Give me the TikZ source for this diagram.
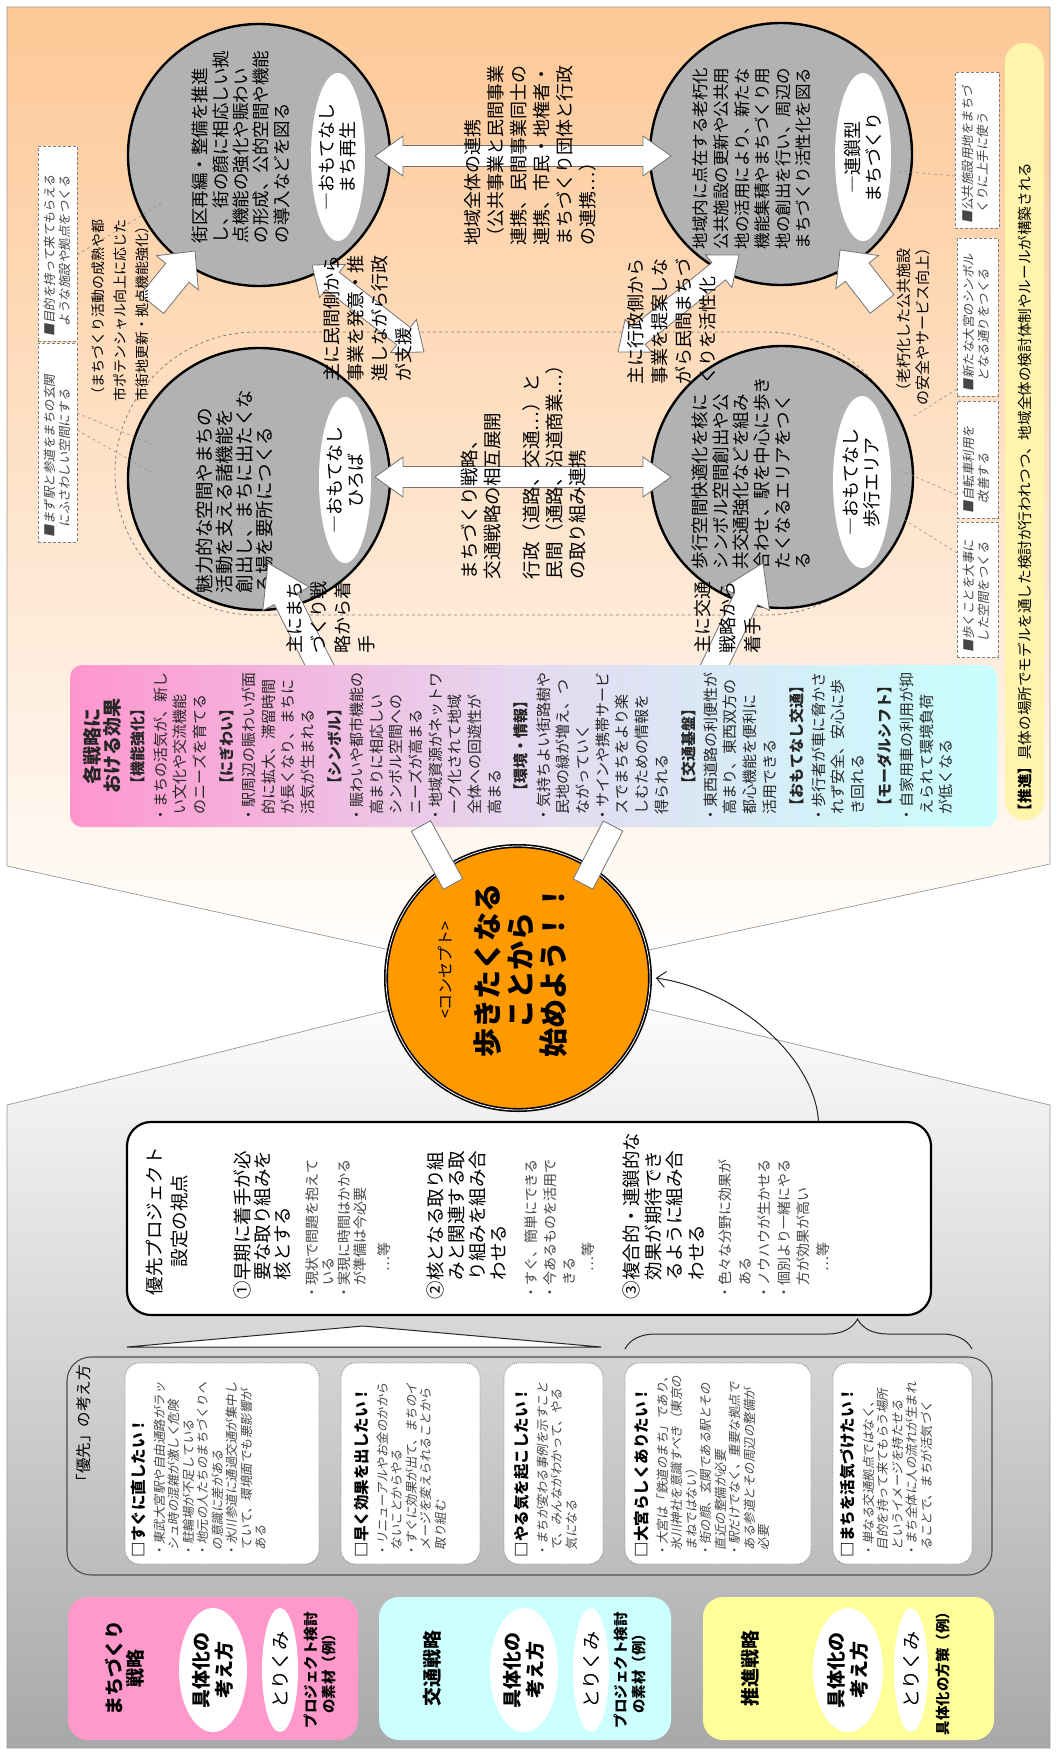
\documentclass[tikz,border=0pt]{standalone}
\usepackage{fontspec}
\setmainfont{Noto Sans CJK JP}
\newfontfamily\jpit[FakeSlant=0.18]{Noto Sans CJK JP}
\usetikzlibrary{calc,shapes.geometric,decorations.pathreplacing,arrows.meta}
\definecolor{peach}{RGB}{253,200,150}
\definecolor{panelgray}{RGB}{168,168,168}
\definecolor{effpink}{RGB}{255,150,205}
\definecolor{efflav}{RGB}{228,218,240}
\definecolor{effcyan}{RGB}{200,255,255}
\definecolor{circgray}{RGB}{178,178,178}
\definecolor{conc}{RGB}{255,153,0}
\definecolor{bandyel}{RGB}{255,244,172}
\definecolor{spink}{RGB}{255,153,204}
\definecolor{scyan}{RGB}{204,255,255}
\definecolor{syel}{RGB}{255,255,153}
\definecolor{softtext}{RGB}{70,70,70}
\newcommand{\blkarrow}[5]{%
  \coordinate (ba-s) at (#1);
  \coordinate (ba-e) at (#2);
  \coordinate (ba-h) at ($(ba-e)!#5!(ba-s)$);
  \filldraw[blockarr] ($(ba-s)!#3!90:(ba-e)$) -- ($(ba-h)!#3!-90:(ba-s)$) -- ($(ba-h)!#4!-90:(ba-s)$) -- (ba-e) -- ($(ba-h)!#4!90:(ba-s)$) -- ($(ba-h)!#3!90:(ba-s)$) -- ($(ba-s)!#3!-90:(ba-e)$) -- cycle;}
\newcommand{\dblarrow}[5]{%
  \coordinate (da-s) at (#1);
  \coordinate (da-e) at (#2);
  \coordinate (da-h1) at ($(da-s)!#5!(da-e)$);
  \coordinate (da-h2) at ($(da-e)!#5!(da-s)$);
  \filldraw[blockarr] (da-s) -- ($(da-h1)!#4!90:(da-e)$) -- ($(da-h1)!#3!90:(da-e)$) -- ($(da-h2)!#3!-90:(da-s)$) -- ($(da-h2)!#4!-90:(da-s)$) -- (da-e) -- ($(da-h2)!#4!90:(da-s)$) -- ($(da-h2)!#3!90:(da-s)$) -- ($(da-h1)!#3!-90:(da-e)$) -- ($(da-h1)!#4!-90:(da-e)$) -- cycle;}
\newcommand{\wbar}[3]{%
  \coordinate (wb-s) at (#1);
  \coordinate (wb-e) at (#2);
  \filldraw[blockarr] ($(wb-s)!#3!90:(wb-e)$) -- ($(wb-e)!#3!-90:(wb-s)$) -- ($(wb-e)!#3!90:(wb-s)$) -- ($(wb-s)!#3!-90:(wb-e)$) -- cycle;}
\begin{document}
\begin{tikzpicture}[x=1pt,y=-1pt,
  lt/.style={rotate=90,inner sep=0pt,outer sep=0pt,align=left,anchor=north west},
  ct/.style={rotate=90,inner sep=0pt,outer sep=0pt,align=center,anchor=center},
  circ/.style={circle,draw=black,line width=2.4pt,fill=circgray,minimum size=262pt,inner sep=0pt},
  wel/.style={ellipse,fill=white,inner sep=0pt},
  blockarr/.style={fill=white,draw=black!55,line width=0.8pt,line join=miter},
  note/.style={draw=black!50,densely dashed,fill=white,line width=0.6pt,inner sep=0pt},
  leader/.style={draw=black!45,dashed,line width=0.5pt},
  ibox/.style={draw=black!45,densely dotted,fill=white,rounded corners=14pt,line width=0.9pt,inner sep=0pt,minimum height=201pt},
  sbox/.style={rounded corners=20pt,inner sep=0pt,minimum height=143pt},
  small/.style={font=\jpit\fontsize{12.5}{14.5}\selectfont,text=softtext}
]
\useasboundingbox (0,0) rectangle (1057,1753);
\fill[white] (0,0) rectangle (1057,1753);
% ---------- background panels
\shadedraw[top color=peach,bottom color=white,draw=black!40,line width=0.7pt] (7,7) -- (1050,7) -- (1050,864) -- (518,978) -- (7,866) -- cycle;
\shadedraw[top color=white,bottom color=panelgray,draw=black!40,line width=0.7pt] (7,1105) -- (518,978) -- (1050,1105) -- (1050,1748) -- (7,1748) -- cycle;
% ---------- yellow band
\node[fill=bandyel,rounded corners=19pt,minimum width=39pt,minimum height=777pt,inner sep=0pt] (band) at (1024.5,431.5) {};
\node[lt,font=\fontsize{14.6}{17}\selectfont] (bandtxt) at (1018,818) {{\bfseries 【推進】}具体の場所でモデルを通した検討が行われつつ、地域全体の検討体制やルールが構築される};
% ---------- dashed enclosure
\node[draw=black!50,dashed,line width=0.8pt,rounded corners=141pt,minimum width=792pt,minimum height=283pt,inner sep=0pt] (encl) at (511,473.5) {};
% ---------- notes
\node[note,minimum width=39pt,minimum height=195pt] (n2) at (57.5,243.5) {};
\node[lt,small] (n2t) at (44,336) {■目的を持って来てもらえる\\\hspace*{10pt}ような施設や拠点をつくる};
\node[note,minimum width=39pt,minimum height=199pt] (n1) at (57.5,442.5) {};
\node[lt,small] (n1t) at (44,537) {■まず駅と参道をまちの玄関\\\hspace*{10pt}にふさわしい空間にする};
\node[note,minimum width=44pt,minimum height=156pt] (n3) at (977,150) {};
\node[lt,small] (n3t) at (962,223) {■公共施設用地をまちづ\\\hspace*{10pt}くりに上手に使う};
\node[note,minimum width=41pt,minimum height=158pt] (n4) at (977.5,317) {};
\node[lt,small] (n4t) at (963,391) {■新たな大宮のシンボル\\\hspace*{10pt}となる通りをつくる};
\node[note,minimum width=41pt,minimum height=117pt] (n5) at (977.5,459.5) {};
\node[lt,small] (n5t) at (963,513) {■自転車利用を\\\hspace*{10pt}改善する};
\node[note,minimum width=41pt,minimum height=135pt] (n6) at (977.5,589.5) {};
\node[lt,small] (n6t) at (963,652) {■歩くことを大事に\\\hspace*{10pt}した空間をつくる};
% ---------- circles
\node[circ] (cC) at (259,155) {};
\node[circ] (cD) at (781,154) {};
\node[circ] (cA) at (259,479) {};
\node[circ] (cB) at (782,477) {};
\node[wel,minimum width=54pt,minimum height=168pt] (eC) at (338,157) {};
\node[wel,minimum width=56pt,minimum height=168pt] (eD) at (863,157) {};
\node[wel,minimum width=52pt,minimum height=166pt] (eA) at (345,480) {};
\node[wel,minimum width=58pt,minimum height=172pt] (eB) at (862,482) {};
\node[ct,font=\fontsize{18}{21}\selectfont] (tEC) at (eC) {―おもてなし\\まち再生};
\node[ct,font=\fontsize{18}{21}\selectfont] (tED) at (eD) {―連鎖型\\まちづくり};
\node[ct,font=\fontsize{18}{21}\selectfont] (tEA) at (eA) {―おもてなし\\ひろば};
\node[ct,font=\fontsize{18}{21}\selectfont] (tEB) at (eB) {―おもてなし\\歩行エリア};
\node[lt,font=\fontsize{17.5}{20.4}\selectfont] (tC) at (192,243) {街区再編・整備を推進\\し、街の顔に相応しい拠\\点機能の強化や賑わい\\の形成、公的空間や機能\\の導入などを図る};
\node[lt,font=\fontsize{16.5}{20.6}\selectfont] (tD) at (693,249) {地域内に点在する老朽化\\公共施設の更新や公共用\\地の活用により、新たな\\機能集積やまちづくり用\\地の創出を行い、周辺の\\まちづくり活性化を図る};
\node[lt,font=\fontsize{18.5}{20}\selectfont] (tA) at (196,593) {魅力的な空間やまちの\\活動を支える諸機能を\\創出し、まちに出たくな\\る場を要所につくる};
\node[lt,font=\fontsize{17.5}{20.6}\selectfont] (tB) at (692,569) {歩行空間快適化を核に\\シンボル空間創出や公\\共交通強化などを組み\\合わせ、駅を中心に歩き\\たくなるエリアをつく\\る};
% ---------- leader lines
\draw[leader] (77,413) -- (151,444);
\draw[leader] (77,430) -- (151,472);
\draw[leader] (77,255) -- (162,203);
\draw[leader] (955,176) -- (897,171);
\draw[leader] (957,389) -- (914,416);
\draw[leader] (957,495) -- (900,470);
\draw[leader] (957,553) -- (900,517);
% ---------- arrows between circles
\dblarrow{375,156}{671,156}{10.5pt}{20pt}{28pt}
\dblarrow{375,477}{671,477}{10.5pt}{20pt}{28pt}
\dblarrow{424,352}{312,265}{11pt}{21pt}{26pt}
\dblarrow{618,352}{739,255}{11pt}{21pt}{26pt}
\blkarrow{152,304}{195,251}{15pt}{27pt}{28pt}
\blkarrow{882,304}{840,250}{15pt}{27pt}{28pt}
% ---------- region texts
\node[ct,font=\fontsize{14}{22}\selectfont] (pAC) at (120,310) {（まちづくり活動の成熟や都\\市ポテンシャル向上に応じた\\市街地更新・拠点機能強化）};
\node[ct,font=\fontsize{15}{19}\selectfont] (pBD) at (913,323) {（老朽化した公共施設\\の安全やサービス向上）};
\node[lt,font=\fontsize{18}{23}\selectfont] (tCD) at (464,245) {地域全体の連携\\（公共事業と民間事業\\連携、民間事業同士の\\連携、市民・地権者・\\まちづくり団体と行政\\の連携…）};
\node[lt,font=\fontsize{18.5}{23}\selectfont] (tAB) at (461,579) {まちづくり戦略、\\交通戦略の相互展開\\[16pt]行政（道路、交通…）と\\民間（通路、沿道商業…）\\の取り組み連携};
\node[lt,font=\fontsize{18}{24}\selectfont] (tACd) at (323,381) {主に民間側から\\事業を発意・推\\進しながら行政\\が支援};
\node[lt,font=\fontsize{18}{24}\selectfont] (tBDd) at (627,384) {主に行政側から\\事業を提案しな\\がら民間まちづ\\くりを活性化};
% ---------- effects -> circles arrows
\blkarrow{332,690}{268,563}{13pt}{26pt}{40pt}
\blkarrow{703,690}{763,563}{13pt}{26pt}{40pt}
\node[lt,font=\fontsize{18}{24}\selectfont] (tEAa) at (286,653) {主にまち\\づくり戦\\略から着\\手};
\node[lt,font=\fontsize{18}{25}\selectfont] (tEBa) at (694,653) {主に交通\\戦略から\\着手};
% ---------- effects box
\node[rectangle,rounded corners=12pt,left color=effpink,right color=effcyan,middle color=efflav,minimum width=927pt,minimum height=162pt,inner sep=0pt] (eff) at (533.5,746) {};
\node[lt,font=\fontsize{15}{19.7}\selectfont,text=black!85] (efft) at (83,822) {%
\makebox[152pt][c]{\fontsize{19}{21}\selectfont\bfseries 各戦略に}\\
\makebox[152pt][c]{\fontsize{19}{21}\selectfont\bfseries おける効果}\\[5pt]
\makebox[152pt][c]{\bfseries 【機能強化】}\\[2.5pt]
・まちの活気が、新し\\
\hspace*{8pt}い文化や交流機能\\
\hspace*{8pt}のニーズを育てる\\[7pt]
\makebox[152pt][c]{\bfseries 【にぎわい】}\\[2.5pt]
・駅周辺の賑わいが面\\
\hspace*{8pt}的に拡大、滞留時間\\
\hspace*{8pt}が長くなり、まちに\\
\hspace*{8pt}活気が生まれる\\[7pt]
\makebox[152pt][c]{\bfseries 【シンボル】}\\[2.5pt]
・賑わいや都市機能の\\
\hspace*{8pt}高まりに相応しい\\
\hspace*{8pt}シンボル空間への\\
\hspace*{8pt}ニーズが高まる\\
・地域資源がネットワ\\
\hspace*{8pt}ーク化されて地域\\
\hspace*{8pt}全体への回遊性が\\
\hspace*{8pt}高まる\\[7pt]
\makebox[152pt][c]{\bfseries 【環境・情報】}\\[2.5pt]
・気持ちよい街路樹や\\
\hspace*{8pt}民地の緑が増え、つ\\
\hspace*{8pt}ながっていく\\
・サインや携帯サービ\\
\hspace*{8pt}スでまちをより楽\\
\hspace*{8pt}しむための情報を\\
\hspace*{8pt}得られる\\[7pt]
\makebox[152pt][c]{\bfseries 【交通基盤】}\\[2.5pt]
・東西道路の利便性が\\
\hspace*{8pt}高まり、東西双方の\\
\hspace*{8pt}都心機能を便利に\\
\hspace*{8pt}活用できる\\[7pt]
\makebox[152pt][c]{\bfseries 【おもてなし交通】}\\[2.5pt]
・歩行者が車に脅かさ\\
\hspace*{8pt}れず安全、安心に歩\\
\hspace*{8pt}き回れる\\[7pt]
\makebox[152pt][c]{\bfseries 【モーダルシフト】}\\[2.5pt]
・自家用車の利用が抑\\
\hspace*{8pt}えられて環境負荷\\
\hspace*{8pt}が低くなる};
% ---------- concept
\node[circle,fill=conc,draw=black,line width=1.6pt,double=white,double distance=0.8pt,minimum size=264pt,inner sep=0pt] (concept) at (518,978) {};
\wbar{421,826}{453,884}{11pt}
\wbar{613,826}{583,884}{11pt}
\node[ct,font=\fontsize{29}{33}\selectfont\bfseries] (ctext) at (503,970) {{\mdseries\fontsize{16}{18}\selectfont <コンセプト>}\\[14pt]歩きたくなる\\ことから\\始めよう！！};
% ---------- project box
\node[draw=black,line width=2.2pt,fill=white,rounded corners=24pt,minimum width=804pt,minimum height=193pt,inner sep=0pt] (proj) at (529,1218.5) {};
\draw[black!85,line width=1pt,-{Straight Barb[length=9pt,width=16pt]}] ($(proj.north west)!0.859!(proj.north east)$) .. controls (815,1060) and (740,990) .. ($(concept.east)+(5,0)$);
\node[ct,font=\fontsize{18.5}{25}\selectfont] (pt0) at (167,1221) {優先プロジェクト\\設定の視点};
\node[lt,font=\fontsize{18.5}{20}\selectfont] (pt1) at (234,1299) {①早期に着手が必\\\hspace*{19pt}要な取り組みを\\\hspace*{19pt}核とする};
\node[lt,font=\fontsize{14}{16}\selectfont,text=softtext] (ps1) at (306,1299) {・現状で問題を抱えて\\\hspace*{14pt}いる\\・実現に時間はかかる\\\hspace*{14pt}が準備は今必要\\[8pt]\hspace*{28pt}…等};
\node[lt,font=\fontsize{18.5}{21}\selectfont] (pt2) at (427,1299) {②核となる取り組\\\hspace*{19pt}みと関連する取\\\hspace*{19pt}り組みを組み合\\\hspace*{19pt}わせる};
\node[lt,font=\fontsize{14}{19}\selectfont,text=softtext] (ps2) at (525,1299) {・すぐ、簡単にできる\\・今あるものを活用で\\\hspace*{14pt}きる\\\hspace*{28pt}…等};
\node[lt,font=\fontsize{18.5}{21.5}\selectfont] (pt3) at (623,1299) {③複合的・連鎖的な\\\hspace*{19pt}効果が期待でき\\\hspace*{19pt}るように組み合\\\hspace*{19pt}わせる};
\node[lt,font=\fontsize{14}{19.5}\selectfont,text=softtext] (ps3) at (719,1299) {・色々な分野に効果が\\\hspace*{14pt}ある\\・ノウハウが生かせる\\・個別より一緒にやる\\\hspace*{14pt}方が効果が高い\\\hspace*{28pt}…等};
% ---------- callout and brace
\filldraw[fill=white,draw=black!85,line width=1pt] (127,1347) -- (363,1326) -- (601,1347) -- cycle;
\draw[black!85,line width=1pt,decorate,decoration={brace,amplitude=30pt,aspect=0.67}] (625,1349) -- (972,1349);
% ---------- priority panel
\node[draw=black!70,line width=1.1pt,rounded corners=24pt,minimum width=925pt,minimum height=218pt,inner sep=0pt] (yp) at (529.5,1466) {};
\node[lt,font=\fontsize{15.5}{18}\selectfont] (ypt) at (76,1489) {「優先」の考え方};
\node[ibox,minimum width=194pt] (b1) at (222,1463.5) {};
\node[ibox,minimum width=139pt] (b2) at (410.5,1463.5) {};
\node[ibox,minimum width=99pt] (b3) at (553.5,1463.5) {};
\node[ibox,minimum width=186pt] (b4) at (718,1463.5) {};
\node[ibox,minimum width=139pt] (b5) at (902.5,1463.5) {};
\node[lt,small] (b1t) at (131,1557) {{\normalfont\color{black}\fontsize{15.5}{17}\selectfont\bfseries □すぐに直したい！}\\[5.5pt]・東武大宮駅や自由通路がラッ\\\hspace*{7pt}シュ時の混雑が激しく危険\\・駐輪場が不足している\\・地元の人たちのまちづくりへ\\\hspace*{7pt}の意識に差がある\\・氷川参道に通過交通が集中し\\\hspace*{7pt}ていて、環境面でも悪影響が\\\hspace*{7pt}ある};
\node[lt,small] (b2t) at (354,1557) {{\normalfont\color{black}\fontsize{15.5}{17}\selectfont\bfseries □早く効果を出したい！}\\[5.5pt]・リニューアルやお金のかから\\\hspace*{7pt}ないことからやる\\・すぐに効果が出て、まちのイ\\\hspace*{7pt}メージを変えられることから\\\hspace*{7pt}取り組む};
\node[lt,small] (b3t) at (514,1557) {{\normalfont\color{black}\fontsize{15.5}{17}\selectfont\bfseries □やる気を起こしたい！}\\[5.5pt]・まちが変わる事例を示すこと\\\hspace*{7pt}で、みんながわかって、やる\\\hspace*{7pt}気になる};
\node[lt,small] (b4t) at (634,1557) {{\normalfont\color{black}\fontsize{15.5}{17}\selectfont\bfseries □大宮らしくありたい！}\\[5.5pt]・大宮は「鉄道のまち」であり、\\\hspace*{7pt}氷川神社を意識すべき（東京の\\\hspace*{7pt}まねではない）\\・街の顔、玄関である駅とその\\\hspace*{7pt}直近の整備が必要\\・駅だけでなく、重要な拠点で\\\hspace*{7pt}ある参道とその周辺の整備が\\\hspace*{7pt}必要};
\node[lt,small] (b5t) at (840,1557) {{\normalfont\color{black}\fontsize{15.5}{17}\selectfont\bfseries □まちを活気づけたい！}\\[5.5pt]・単なる交通拠点ではなく、\\\hspace*{7pt}目的を持って来てもらう場所\\\hspace*{7pt}というイメージを持たせる\\・まち全体に人の流れが生まれ\\\hspace*{7pt}ることで、まちが活気づく};
% ---------- strategy boxes
\node[sbox,fill=spink,minimum width=290pt] (sp) at (213,1668.5) {};
\node[sbox,fill=scyan,minimum width=292pt] (sc) at (525,1668.5) {};
\node[sbox,fill=syel,minimum width=291pt] (sy) at (848.5,1668.5) {};
\node[ct,font=\fontsize{19}{21}\selectfont\bfseries] (spt) at (125,1668) {まちづくり\\戦略};
\node[ct,font=\fontsize{19}{21}\selectfont\bfseries] (sct) at (432,1668) {交通戦略};
\node[ct,font=\fontsize{19}{21}\selectfont\bfseries] (syt) at (750,1668) {推進戦略};
\node[wel,minimum width=68pt,minimum height=124pt] (sp1) at (213,1670) {};
\node[wel,minimum width=36pt,minimum height=124pt] (sp2) at (280,1670) {};
\node[wel,minimum width=68pt,minimum height=124pt] (sc1) at (524,1670) {};
\node[wel,minimum width=36pt,minimum height=124pt] (sc2) at (591,1670) {};
\node[wel,minimum width=70pt,minimum height=124pt] (sy1) at (848,1670) {};
\node[wel,minimum width=34pt,minimum height=124pt] (sy2) at (911,1670) {};
\node[ct,font=\fontsize{19}{23}\selectfont\bfseries] at (sp1) {具体化の\\考え方};
\node[ct,font=\fontsize{19}{23}\selectfont\bfseries] at (sc1) {具体化の\\考え方};
\node[ct,font=\fontsize{19}{23}\selectfont\bfseries] at (sy1) {具体化の\\考え方};
\node[ct,font=\fontsize{19}{22}\selectfont] at (sp2) {とりくみ};
\node[ct,font=\fontsize{19}{22}\selectfont] at (sc2) {とりくみ};
\node[ct,font=\fontsize{19}{22}\selectfont] at (sy2) {とりくみ};
\node[ct,font=\fontsize{14.5}{18}\selectfont\bfseries] (spx) at (320,1670) {プロジェクト検討\\の素材（例）};
\node[ct,font=\fontsize{14.5}{18}\selectfont\bfseries] (scx) at (630,1670) {プロジェクト検討\\の素材（例）};
\node[ct,font=\fontsize{14.5}{18}\selectfont\bfseries] (syx) at (943,1670) {具体化の方策（例）};
\end{tikzpicture}
\end{document}
